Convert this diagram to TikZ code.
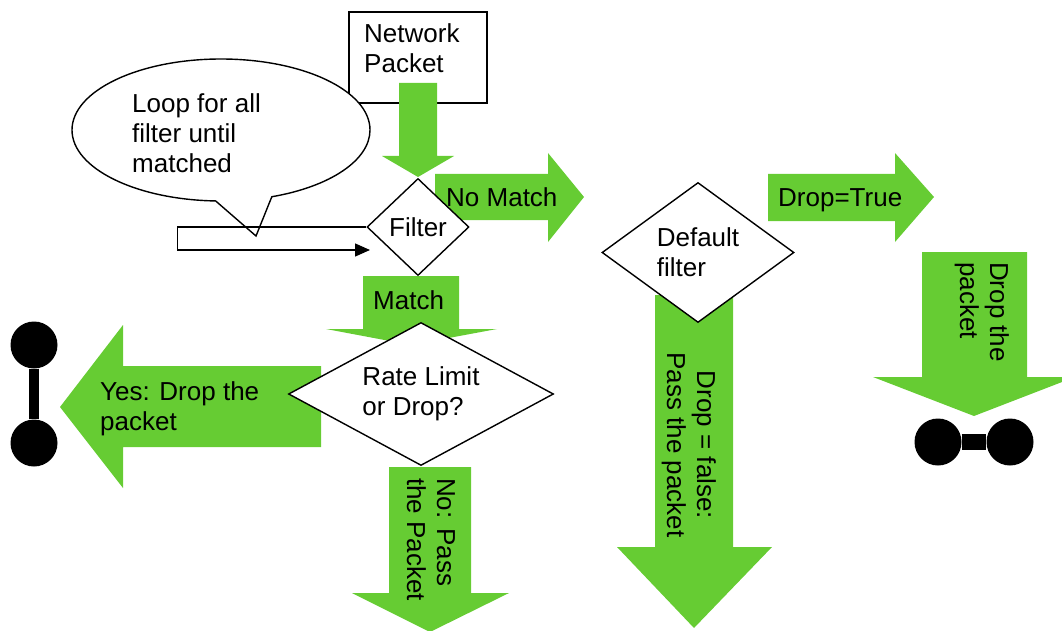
\documentclass[tikz,border=0pt]{standalone}
\usepackage{fontspec}
\setmainfont{Liberation Sans}
\usetikzlibrary{arrows.meta,positioning,shapes.geometric,shapes.callouts}
\definecolor{flowgreen}{RGB}{102,204,51}

\begin{document}
\begin{tikzpicture}[
  x=1pt, y=-1pt,
  font=\fontsize{26}{30}\selectfont,
  decision/.style={diamond, draw=black, fill=white, line width=1.4pt,
                   inner sep=0pt, align=left},
  box/.style={rectangle, draw=black, line width=1.4pt,
              minimum width=138pt, minimum height=91pt},
  txt/.style={inner sep=0pt, align=left, anchor=base west},
  vtxt/.style={txt, rotate=-90},
  flow/.style={fill=flowgreen},
  dot/.style={circle, fill=black, inner sep=0pt, minimum size=47pt},
  loopline/.style={line width=1.4pt, -{Triangle[length=15pt,width=13pt]}}
]
  \useasboundingbox (0,0) rectangle (1062,631);

  % input packet and comment bubble
  \node[box] (packet) at (418,57.5) {};
  \node[ellipse callout, draw=black, fill=white, line width=1.4pt,
        minimum width=298pt, minimum height=142pt,
        callout absolute pointer={(256,236)}, callout pointer arc=22]
        (bubble) at (221,130) {};

  % green flow arrows
  \fill[flow] (399,83) -- (437,83) -- (437,156) -- (454,156) -- (418,177)
              -- (382,156) -- (399,156) -- cycle;
  \fill[flow] (435,174) -- (548,174) -- (548,153) -- (584,197) -- (548,242)
              -- (548,220) -- (435,220) -- cycle;
  \fill[flow] (363,276) -- (459,276) -- (459,329) -- (497,329) -- (411,345)
              -- (326,329) -- (363,329) -- cycle;
  \fill[flow] (321,366) -- (123,366) -- (123,325) -- (60,407) -- (123,488)
              -- (123,447) -- (321,447) -- cycle;
  \fill[flow] (389,467) -- (471,467) -- (471,593) -- (509,593) -- (430,632)
              -- (352,593) -- (389,593) -- cycle;
  \fill[flow] (655,295) -- (733,295) -- (733,547) -- (772,547) -- (694,628)
              -- (617,547) -- (655,547) -- cycle;
  \fill[flow] (768,174) -- (895,174) -- (895,153) -- (934,197) -- (895,242)
              -- (895,221) -- (768,221) -- cycle;
  \fill[flow] (922,252) -- (1027,252) -- (1027,377) -- (1075,377) -- (974,416)
              -- (873,377) -- (922,377) -- cycle;

  % decisions
  \node[decision, minimum width=102pt, minimum height=97pt] (filter) at (418,227) {Filter};
  \node[decision, aspect=1.85, minimum width=265pt, minimum height=143pt]
        (rate) at (421,394) {Rate Limit\\or Drop?};
  \node[decision, aspect=1.37, minimum width=192pt, minimum height=140pt]
        (default) at (698,252.5) {Default\\filter};

  % loop back into the filter
  \coordinate (loopend) at (370,250);
  \draw[loopline] (filter.west) -- ++(-189,0) -- ++(0,23) -- (loopend);

  % end symbols
  \node[dot] (stopA) at (34,345) {};
  \node[dot] (stopB) at (34,443) {};
  \draw[line width=10pt] (stopA) -- (stopB);
  \node[dot] (stopC) at (938,442) {};
  \node[dot] (stopD) at (1010,442) {};
  \draw[line width=16pt] (stopC) -- (stopD);

  % texts (base = last line)
  \node[txt] (packettext) at (364,73) {Network\\Packet};
  \node[txt] (looptext) at (132,173) {Loop for all\\filter until\\matched};
  \node[txt] (nomatch) at (446,207) {No Match};
  \node[txt] (droptrue) at (778,207) {Drop=True};
  \node[txt] (matchtext) at (373,309) {Match};
  \node[txt] (yestext) at (100,430) {Yes: Drop the\\packet};
  \node[vtxt] (nopass) at (407,478) {No: Pass\\the Packet};
  \node[vtxt] (droppacket) at (960,262) {Drop the\\packet};
  \node[vtxt, align=center, anchor=base] (dropfalse) at (667,445)
        {Drop = false:\\Pass the packet};
\end{tikzpicture}
\end{document}
